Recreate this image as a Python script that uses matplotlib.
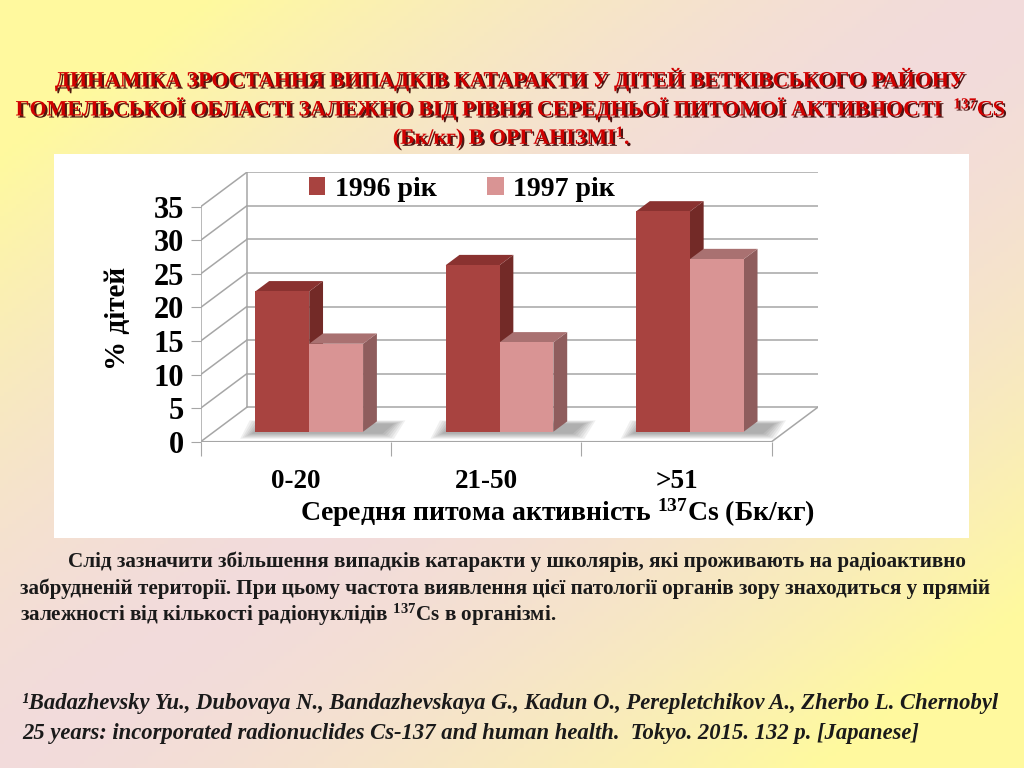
import numpy as np
import matplotlib
matplotlib.use("Agg")
import matplotlib.pyplot as plt
import matplotlib.patheffects as pe
from matplotlib.patches import Polygon, Rectangle

plt.rcParams["font.family"] = ["Liberation Serif", "DejaVu Serif"]
plt.rcParams["mathtext.fontset"] = "custom"
plt.rcParams["mathtext.rm"] = "Liberation Serif:bold"
plt.rcParams["mathtext.bf"] = "Liberation Serif:bold"
plt.rcParams["mathtext.it"] = "Liberation Serif:bold:italic"
plt.rcParams["mathtext.default"] = "rm"

# дані
categories = ["0-20", "21-50", ">51"]
values_1996 = [20.9, 24.8, 32.8]
values_1997 = [13.1, 13.3, 25.7]
series_labels = ["1996 рік", "1997 рік"]
yticks = [0, 5, 10, 15, 20, 25, 30, 35]

title_lines = [
    "ДИНАМІКА ЗРОСТАННЯ ВИПАДКІВ КАТАРАКТИ У ДІТЕЙ ВЕТКІВСЬКОГО РАЙОНУ",
    "ГОМЕЛЬСЬКОЇ ОБЛАСТІ ЗАЛЕЖНО ВІД РІВНЯ СЕРЕДНЬОЇ ПИТОМОЇ АКТИВНОСТІ  $^{137}$CS",
    "(Бк/кг) В ОРГАНІЗМІ$^{1}$.",
]
body_lines = [
    "Слід зазначити збільшення випадків катаракти у школярів, які проживають на радіоактивно",
    "забрудненій території. При цьому частота виявлення цієї патології органів зору знаходиться у прямій",
    "залежності від кількості радіонуклідів $^{137}$Cs в організмі.",
]
ref_lines = [
    "¹Badazhevsky Yu., Dubovaya N., Bandazhevskaya G., Kadun O., Perepletchikov A., Zherbo L. Chernobyl",
    "25 years: incorporated radionuclides Cs-137 and human health.  Tokyo. 2015. 132 p. [Japanese]",
]

colors = {
    "1996": ("#a84340", "#732a27", "#8a3230"),
    "1997": ("#d99494", "#8f5d5d", "#a97171"),
}

W, H = 1024, 768
fig = plt.figure(figsize=(W / 100, H / 100), dpi=100)

# фон слайду: жовтий -> рожевий -> жовтий по діагоналі
bg = fig.add_axes([0, 0, 1, 1], zorder=-10)
xx, yy = np.meshgrid(np.linspace(0, 1, 256), np.linspace(0, 1, 192))
t = (xx + yy) / 2
w = np.clip(np.abs(2 * t - 1) * 1.25, 0, 1) ** 1.6
yellow = np.array([1.0, 0.98, 0.62])
pink = np.array([0.95, 0.86, 0.86])
img = pink[None, None, :] * (1 - w[..., None]) + yellow[None, None, :] * w[..., None]
bg.imshow(img, extent=[0, 1, 0, 1], aspect="auto", origin="upper")
bg.set_axis_off()

# біла панель діаграми
fig.add_artist(Rectangle((54 / W, 1 - 538 / H), 915 / W, 384 / H,
                         transform=fig.transFigure, facecolor="white",
                         edgecolor="none", zorder=-5))

# заголовок
shadow = [pe.withSimplePatchShadow(offset=(1.5, -1.5), shadow_rgbFace="#3a0000", alpha=0.9)]
for i, line in enumerate(title_lines):
    fig.text(0.5, 1 - (80 + i * 29) / H, line, ha="center", va="center",
             fontsize=15.8, fontweight="bold", color="#d00000", path_effects=shadow)

# псевдо-3D стовпчики
DX, DY = 0.242, 5.12   # зсув глибини (частка категорії, одиниці осі)
f0, dd = 0.29, 0.30    # положення та глибина стовпчиків
bw = 0.283

ax = fig.add_axes([200.7 / W, 1 - 441.7 / H, 617 / W, 269.4 / H])
ax.set_xlim(-0.5, 2.5 + DX)
ax.set_ylim(0, 35 + DY)
for s in ax.spines.values():
    s.set_visible(False)
ax.patch.set_alpha(0)

grid_c = "#a6a6a6"
for v in yticks:
    ax.plot([-0.5 + DX, 2.5 + DX], [v + DY, v + DY], color=grid_c, lw=1.1, zorder=1)
    ax.plot([-0.5, -0.5 + DX], [v, v + DY], color=grid_c, lw=1.1, zorder=1)
ax.plot([-0.5 + DX, -0.5 + DX], [DY, yticks[-1] + DY], color=grid_c, lw=1.1, zorder=1)
ax.plot([-0.5, -0.5], [0, yticks[-1]], color=grid_c, lw=1.1, zorder=1)
ax.plot([-0.5, 2.5, 2.5 + DX], [0, 0, DY], color=grid_c, lw=1.1, zorder=1)

x = np.arange(len(categories))
base = f0 * DY
for i in x:
    # тінь на підлозі
    gl = i - bw + f0 * DX
    gr = i + bw + f0 * DX + dd * DX
    for k in range(6):
        e = 0.012 * k
        ax.add_patch(Polygon([(gl - 0.02 - e, base - 0.3 - 0.15 * k), (gr + 0.03 + e, base - 0.3 - 0.15 * k),
                              (gr + 0.09 + e, base + 1.2 + 0.1 * k), (gl + 0.03 - e, base + 1.2 + 0.1 * k)],
                             closed=True, facecolor="black", alpha=0.06, edgecolor="none", zorder=2))

for j, (vals, key) in enumerate([(values_1996, "1996"), (values_1997, "1997")]):
    fc, sc, tc = colors[key]
    xc = x + (j - 0.5) * bw + f0 * DX
    ax.bar(xc, vals, width=bw, bottom=base, color=fc, edgecolor="none",
           zorder=5 + 2 * j, label=series_labels[j])
    for i, v in enumerate(vals):
        xl, xr = xc[i] - bw / 2, xc[i] + bw / 2
        top = base + v
        ax.add_patch(Polygon([(xr, base), (xr + dd * DX, base + dd * DY),
                              (xr + dd * DX, top + dd * DY), (xr, top)],
                             closed=True, facecolor=sc, edgecolor="none", zorder=4 + 2 * j))
        ax.add_patch(Polygon([(xl, top), (xr, top), (xr + dd * DX, top + dd * DY),
                              (xl + dd * DX, top + dd * DY)],
                             closed=True, facecolor=tc, edgecolor="none", zorder=4 + 2 * j))

ax.set_yticks(yticks)
ax.set_yticklabels([str(v) for v in yticks], fontsize=22, fontweight="bold")
ax.tick_params(axis="y", length=7, color=grid_c, pad=5)
ax.set_xticks([-0.5, 0.5, 1.5, 2.5])
ax.set_xticklabels([])
ax.set_xticks(x, minor=True)
ax.set_xticklabels(categories, minor=True, fontsize=19.5, fontweight="bold")
ax.tick_params(axis="x", which="major", length=10, color=grid_c)
ax.tick_params(axis="x", which="minor", length=0, pad=20)

fig.legend(loc="center", bbox_to_anchor=(462 / W, 1 - 189 / H), ncol=2, frameon=False,
           prop={"size": 20, "weight": "bold"}, handlelength=0.6, handleheight=0.6,
           handletextpad=0.35, columnspacing=1.8)

fig.text(118 / W, 1 - 318 / H, "% дітей", rotation=90, ha="center", va="center",
         fontsize=21, fontweight="bold")
fig.text(557 / W, 1 - 513 / H, "Середня питома активність $^{137}$Cs (Бк/кг)",
         ha="center", va="center", fontsize=20, fontweight="bold")

# текст під діаграмою
for i, line in enumerate(body_lines):
    x0 = 68 if i == 0 else 20
    fig.text(x0 / W, 1 - (562 + i * 26.5) / H, line, ha="left", va="center",
             fontsize=15.2, fontweight="bold", color="#1a1a1a")

for i, line in enumerate(ref_lines):
    fig.text(22 / W, 1 - (703 + i * 30) / H, line, ha="left", va="center",
             fontsize=16.3, fontstyle="italic", fontweight="bold", color="#1a1a1a")

fig.savefig("out.png", dpi=100)
